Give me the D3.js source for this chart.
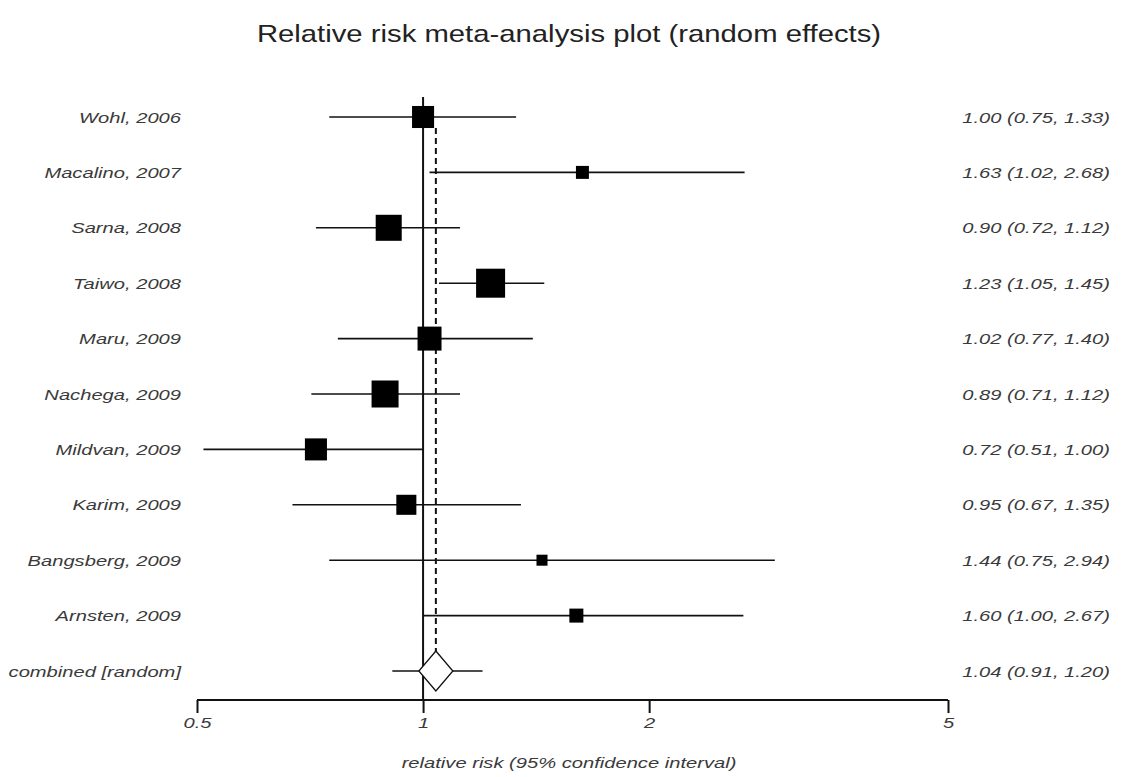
<!DOCTYPE html>
<html>
<head>
<meta charset="utf-8">
<script src="https://cdn.jsdelivr.net/npm/d3@7"></script>
<style>
  html, body { margin: 0; padding: 0; background: #fff; }
  svg { display: block; }
  text { font-family: "Liberation Sans", Arial, sans-serif; }
</style>
</head>
<body>
<svg id="chart" width="1123" height="777"></svg>
<script>
// Studies in the meta-analysis
const studies = ["Wohl, 2006", "Macalino, 2007", "Sarna, 2008", "Taiwo, 2008", "Maru, 2009",
                 "Nachega, 2009", "Mildvan, 2009", "Karim, 2009", "Bangsberg, 2009", "Arnsten, 2009"];
const rr    = [1.00, 1.63, 0.90, 1.23, 1.02, 0.89, 0.72, 0.95, 1.44, 1.60];
const lower = [0.75, 1.02, 0.72, 1.05, 0.77, 0.71, 0.51, 0.67, 0.75, 1.00];
const upper = [1.33, 2.68, 1.12, 1.45, 1.40, 1.12, 1.00, 1.35, 2.94, 2.67];
// Relative study weights (%), shown as box area
const weights = [10.4, 3.6, 14.5, 18.0, 12.3, 15.6, 10.4, 8.6, 2.6, 4.2];

// Pooled estimate
const pooledLabel = "combined [random]";
const pooled = { rr: 1.04, lower: 0.91, upper: 1.20 };

const tickValues = [0.5, 1, 2, 5];
const titleText = "Relative risk meta-analysis plot (random effects)";
const axisTitle = "relative risk (95% confidence interval)";

const fmt = d3.format(".2f");
const svg = d3.select("#chart");

const x = d3.scaleLog().domain([0.5, 5]).range([197, 948]);
const rowNames = studies.concat([pooledLabel]);
const y = d3.scalePoint().domain(rowNames).range([117, 671]);
const boxSize = d3.scaleSqrt().domain([0, d3.max(weights)]).range([0, 29]);

const rows = studies.map((s, i) => ({ name: s, rr: rr[i], lo: lower[i], hi: upper[i], w: weights[i] }));

// Wide lettering: glyphs are stretched horizontally around their anchor point
const WIDE = 1.3;
function wideText(sel, px, py, sx) {
  return sel.attr("x", 0).attr("y", 0)
    .attr("transform", (d, i) => `translate(${typeof px === "function" ? px(d, i) : px},${typeof py === "function" ? py(d, i) : py}) scale(${sx},1)`);
}

// Title
wideText(svg.append("text"), 569, 42, 1.22)
  .attr("text-anchor", "middle")
  .attr("font-size", 24)
  .attr("fill", "#222")
  .text(titleText);

// Line of no effect
svg.append("line")
  .attr("x1", x(1)).attr("x2", x(1))
  .attr("y1", 97).attr("y2", 700)
  .attr("stroke", "#111").attr("stroke-width", 2);

// Pooled estimate reference line
svg.append("line")
  .attr("x1", x(pooled.rr)).attr("x2", x(pooled.rr))
  .attr("y1", y(studies[0]) + 11).attr("y2", y(pooledLabel) - 18)
  .attr("stroke", "#111").attr("stroke-width", 2)
  .attr("stroke-dasharray", "6,4");

// Confidence intervals
const g = svg.append("g");
g.selectAll("line.ci").data(rows).join("line")
  .attr("class", "ci")
  .attr("x1", d => x(d.lo)).attr("x2", d => x(d.hi))
  .attr("y1", d => y(d.name)).attr("y2", d => y(d.name))
  .attr("stroke", "#111").attr("stroke-width", 1.6);

// Study boxes
g.selectAll("rect.box").data(rows).join("rect")
  .attr("class", "box")
  .attr("x", d => x(d.rr) - boxSize(d.w) / 2)
  .attr("y", d => y(d.name) - boxSize(d.w) / 2)
  .attr("width", d => boxSize(d.w))
  .attr("height", d => boxSize(d.w))
  .attr("fill", "#000");

// Pooled interval and diamond
const py = y(pooledLabel);
svg.append("line")
  .attr("x1", x(pooled.lower)).attr("x2", x(pooled.upper))
  .attr("y1", py).attr("y2", py)
  .attr("stroke", "#111").attr("stroke-width", 1.6);
const px = x(pooled.rr);
svg.append("path")
  .attr("d", `M${px},${py - 20} L${px + 17},${py} L${px},${py + 20} L${px - 17},${py} Z`)
  .attr("fill", "#fff").attr("stroke", "#111").attr("stroke-width", 1.3);

// Study labels
wideText(svg.selectAll("text.lab").data(rowNames).join("text").attr("class", "lab"),
         181, d => y(d) + 5.5, WIDE)
  .attr("text-anchor", "end")
  .attr("font-size", 15.5).attr("font-style", "italic")
  .attr("fill", "#3a3a3a")
  .text(d => d);

// Estimates with intervals
const estText = rows.map(d => `${fmt(d.rr)} (${fmt(d.lo)}, ${fmt(d.hi)})`)
  .concat([`${fmt(pooled.rr)} (${fmt(pooled.lower)}, ${fmt(pooled.upper)})`]);
wideText(svg.selectAll("text.est").data(estText).join("text").attr("class", "est"),
         1110, (d, i) => y(rowNames[i]) + 5.5, WIDE)
  .attr("text-anchor", "end")
  .attr("font-size", 15.5).attr("font-style", "italic")
  .attr("fill", "#3a3a3a")
  .text(d => d);

// X axis
const axis = d3.axisBottom(x)
  .tickValues(tickValues)
  .tickFormat(d => d)
  .tickSize(13)
  .tickPadding(4);
const ax = svg.append("g").attr("transform", "translate(0,700)").call(axis);
ax.select(".domain").attr("stroke", "#111").attr("stroke-width", 2).attr("d", `M${x(0.5)},0H${x(5)}`);
ax.selectAll(".tick line").attr("stroke", "#111").attr("stroke-width", 2);
ax.selectAll(".tick text")
  .attr("font-family", "\"Liberation Sans\", Arial, sans-serif")
  .attr("font-size", 15.5).attr("font-style", "italic")
  .attr("fill", "#3a3a3a")
  .attr("transform", `scale(${WIDE},1)`)
  .attr("x", 0);

wideText(svg.append("text"), 569, 768, WIDE)
  .attr("text-anchor", "middle")
  .attr("font-size", 15.5).attr("font-style", "italic")
  .attr("fill", "#3a3a3a")
  .text(axisTitle);
</script>
</body>
</html>
